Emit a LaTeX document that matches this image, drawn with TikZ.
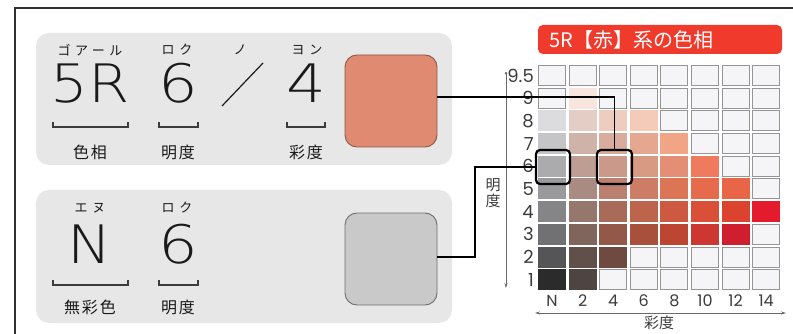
\documentclass[tikz,border=0pt]{standalone}
\usepackage{fontspec}
\setmainfont{Noto Sans CJK JP}
\newfontfamily\rubyfont{Noto Sans CJK JP}[LetterSpace=35]
\newfontfamily\labfont{Noto Sans CJK JP}[LetterSpace=12]
\newfontfamily\numfont{Poppins}
\newfontfamily\bignumfont{DejaVuSans-ExtraLight.ttf}
\usetikzlibrary{arrows.meta}
\definecolor{ink}{HTML}{1A1A1A}
\definecolor{panel}{HTML}{E7E7E7}
\definecolor{salmon}{HTML}{E08B71}
\definecolor{salmonedge}{HTML}{8E5646}
\definecolor{swgray}{HTML}{C9C9C9}
\definecolor{swgrayedge}{HTML}{6E6E6E}
\definecolor{banred}{HTML}{EF3A2C}
\definecolor{emptycell}{HTML}{F5F5F7}
\definecolor{celledge}{HTML}{959595}
\definecolor{axisgray}{HTML}{6A6A6A}
\begin{document}
\begin{tikzpicture}[x=1pt,y=-1pt,
  panelbox/.style={fill=panel, draw=none, rounded corners=13pt, inner sep=0pt},
  swatchbox/.style={rounded corners=12pt, line width=0.9pt, minimum width=92pt, minimum height=92pt, inner sep=0pt},
  bigtxt/.style={font=\bignumfont\fontsize{53}{53}\selectfont, text=ink, inner sep=0pt, anchor=base},
  rubytxt/.style={font=\rubyfont\fontsize{13}{14}\selectfont, text=ink, inner sep=0pt},
  labtxt/.style={font=\labfont\fontsize{16}{17}\selectfont, text=ink, inner sep=0pt},
  brack/.style={draw=ink!85, line width=1.3pt},
  conn/.style={draw=black, line width=1.5pt},
  cellbox/.style={fill=emptycell, draw=celledge, line width=1pt, minimum width=27pt, minimum height=20pt, inner sep=0pt},
  fillcell/.style={draw=none, minimum width=28pt, minimum height=21pt, inner sep=0pt},
  hlbox/.style={draw=black, line width=2.2pt, rounded corners=4pt, inner sep=0pt, fill=none},
  rowlab/.style={font=\numfont\fontsize{18}{18}\selectfont, text=ink!85, inner sep=0pt, anchor=east},
  collab/.style={font=\numfont\fontsize{16}{16}\selectfont, text=ink!85, inner sep=0pt},
  axislab/.style={font=\fontsize{15}{17}\selectfont, text=ink!85, inner sep=0pt, align=center},
  axisline/.style={draw=axisgray, line width=0.8pt},
  banner/.style={fill=banred, draw=none, rounded corners=5pt, inner sep=0pt, minimum width=244pt, minimum height=29pt}
]
\useasboundingbox (0,0) rectangle (793,334);
\fill[white] (0,0) rectangle (793,334);
% outer frame
\draw[draw=ink!90, line width=1.5pt] (15,334) -- (15,8) -- (793,8);

% panels
\node[panelbox, minimum width=416pt, minimum height=132pt] (pA) at (244,99) {};
\node[panelbox, minimum width=416pt, minimum height=133pt] (pB) at (244,256.5) {};

% top panel texts
\node[rubytxt] (rA1) at (90,50) {ゴアール};
\node[rubytxt] (rA2) at (177,50) {ロク};
\node[rubytxt] (rA3) at (240,50) {ノ};
\node[rubytxt] (rA4) at (307,50) {ヨン};
\node[bigtxt] (bA1) at (90,103) {\scalebox{1.12}[1]{5R}};
\node[bigtxt] (bA2) at (178,103) {\scalebox{1.18}[1]{6}};
\node[bigtxt] (bA4) at (306,103) {\scalebox{1.18}[1]{4}};
\draw[draw=ink, line width=1.2pt] (222,106) -- (263,63);
\draw[brack] (53,122) -- (53,127) -- (128,127) -- (128,122);
\draw[brack] (159,122) -- (159,127) -- (198,127) -- (198,122);
\draw[brack] (287,122) -- (287,127) -- (325,127) -- (325,122);
\node[labtxt] (lA1) at (90,152) {色相};
\node[labtxt] (lA2) at (178,152) {明度};
\node[labtxt] (lA4) at (306,152) {彩度};

% bottom panel texts
\node[rubytxt] (rB1) at (90,208) {エヌ};
\node[rubytxt] (rB2) at (177,208) {ロク};
\node[bigtxt] (bB1) at (90,263) {\scalebox{1.12}[1]{N}};
\node[bigtxt] (bB2) at (178,263) {\scalebox{1.18}[1]{6}};
\draw[brack] (53,280) -- (53,285) -- (128,285) -- (128,280);
\draw[brack] (159,280) -- (159,285) -- (198,285) -- (198,280);
\node[labtxt] (lB1) at (90,307) {無彩色};
\node[labtxt] (lB2) at (178,307) {明度};

% swatches
\node[swatchbox, fill=salmon, draw=salmonedge] (swA) at (391,101) {};
\node[swatchbox, fill=swgray, draw=swgrayedge] (swB) at (391,259) {};

% banner
\node[banner] (ban) at (660,39.5) {};
\node[font=\fontsize{20}{20}\selectfont, text=white, inner sep=0pt, anchor=west] (bantxt) at (549,40) {5R【赤】系の色相};

% grid
\foreach \i in {0,...,7}
  \foreach \j in {0,...,9}
    \node[cellbox] (c\i-\j) at (552+30.6*\i, 75.5+22.7*\j) {};
\foreach \i/\j/\h in {
  1/1/F8E6DE,
  0/2/DCDCDE, 1/2/E3CDC5, 2/2/ECCDBF, 3/2/F4CBB9,
  0/3/C5C5C7, 1/3/CFB3A9, 2/3/D9AD9D, 3/3/E5A78F, 4/3/F2A487,
  0/4/ABABAE, 1/4/BE9E93, 2/4/CB9989, 3/4/D99A84, 4/4/E48E76, 5/4/EF7A5E,
  0/5/9A9A9C, 1/5/AA8B81, 2/5/BB8070, 3/5/CD7C66, 4/5/DC7456, 5/5/E66B4D, 6/5/E86548,
  0/6/858587, 1/6/96776D, 2/6/A96B59, 3/6/BD644C, 4/6/CD5A40, 5/6/D94F37, 6/6/DC432F, 7/6/E41B2C,
  0/7/717173, 1/7/7F655C, 2/7/935847, 3/7/A9503C, 4/7/BD4633, 5/7/CC3831, 6/7/CF1F2E,
  0/8/555557, 1/8/605049, 2/8/6F4A41,
  0/9/2B2B2B, 1/9/4E4441}
  {\definecolor{tmp}{HTML}{\h}\node[fillcell, fill=tmp] (f\i-\j) at (c\i-\j) {};}

% row labels
\foreach \lab [count=\j from 0] in {9.5,9,8,7,6,5,4,3,2,1}
  \node[rowlab] (r\j) at (534, 75.5+22.7*\j) {\lab};
% column labels
\foreach \lab [count=\i from 0] in {N,2,4,6,8,10,12,14}
  \node[collab] (k\i) at (552+30.6*\i, 301) {\lab};

% axes
\coordinate (ax1) at (535,313);
\coordinate (ax2) at (786,313);
\draw[axisline, {Stealth[length=5pt,width=3pt]}-{Stealth[length=5pt,width=3pt]}] (ax1) -- (ax2);
\node[axislab] (axl) at (659,323) {彩度};
\coordinate (ay1) at (506,72);
\coordinate (ay2) at (506,288);
\draw[axisline, {Circle[length=2.5pt]}-{Stealth[length=5pt,width=3pt]}] (ay1) -- (ay2);
\node[axislab, font=\fontsize{15}{16.5}\selectfont] (ayl) at (493,193) {明\\度};

% connectors
\node[hlbox, minimum width=34pt, minimum height=34pt] (hlA) at (553,167) {};
\node[hlbox, minimum width=35pt, minimum height=34pt] (hlB) at (614.5,167) {};
\draw[conn] ([yshift=4pt]swA.east) -| (hlB.north);
\coordinate (kB) at (475,257);
\draw[conn] ([yshift=2pt]swB.east) -- ([yshift=2pt]swB.east -| kB) |- (hlA.west);
\end{tikzpicture}
\end{document}
